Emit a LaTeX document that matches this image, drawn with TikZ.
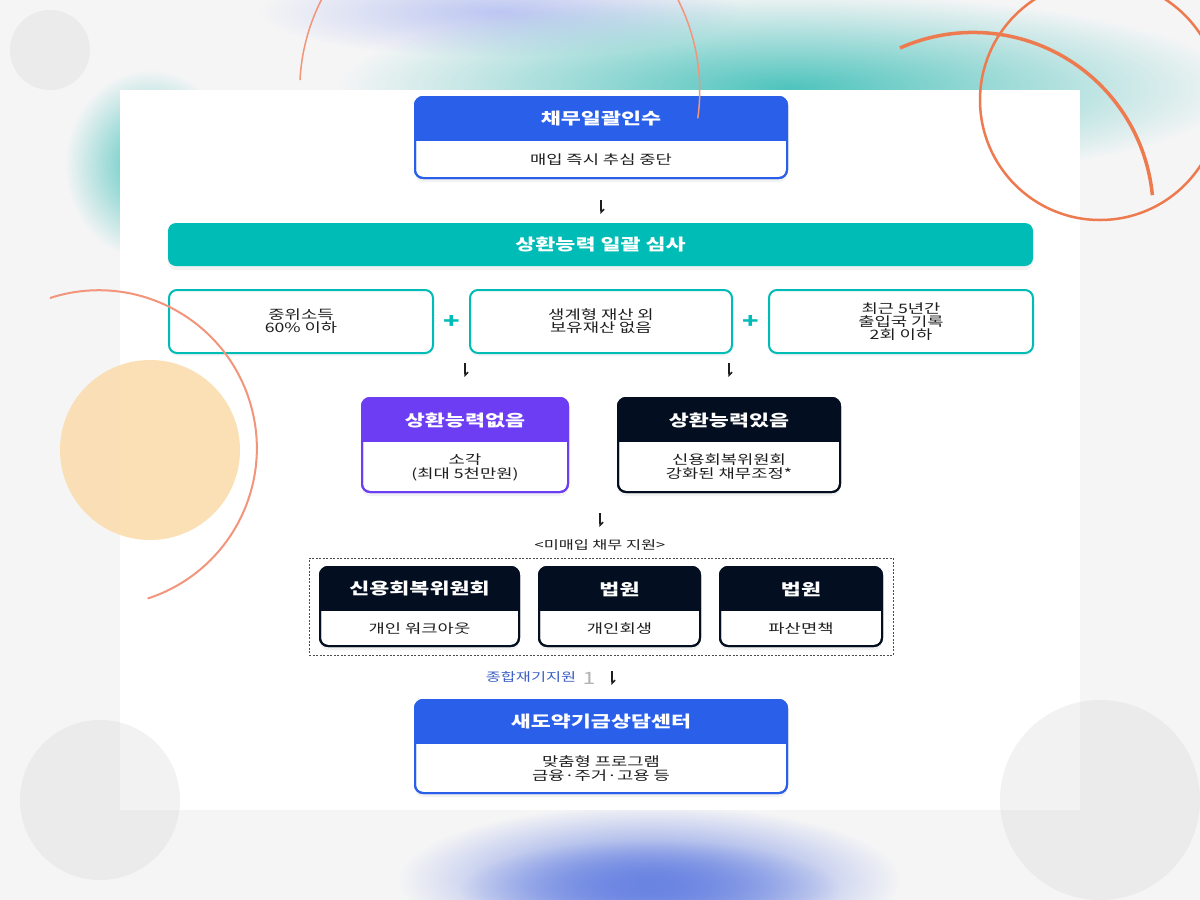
\documentclass[tikz,border=0pt]{standalone}
\usepackage{fontspec}
\setmainfont[FakeStretch=1.36]{Noto Sans CJK KR}
\usepackage{xcolor}
\definecolor{bgc}{HTML}{F5F5F6}
\definecolor{bluec}{HTML}{2A5FE9}
\definecolor{tealc}{HTML}{00BCB6}
\definecolor{purpc}{HTML}{6C3DF3}
\definecolor{darkc}{HTML}{030E20}
\definecolor{inkc}{HTML}{1E1E1E}
\definecolor{linkc}{HTML}{3B5FC4}
\definecolor{ringc}{HTML}{EE7A50}
\definecolor{ringl}{HTML}{F2957B}
\definecolor{peachc}{HTML}{FBDCAE}
\definecolor{greyc}{HTML}{D4D4D4}
\definecolor{blobt}{HTML}{4FC4BD}
\definecolor{blobb}{HTML}{6A84E2}
\definecolor{blobl}{HTML}{BCC6F2}
\usepackage{tikz}
\usetikzlibrary{arrows.meta,calc,fit,fadings,shadows}
\tikzfading[name=softblob,inner color=transparent!0,outer color=transparent!100]
\tikzset{
  >={Straight Barb[harpoon,length=3pt,width=6pt]},
  cardbox/.style={draw=#1,line width=2pt,fill=white,rounded corners=8pt,inner sep=0pt,outer sep=0pt,
    drop shadow={opacity=0.10,shadow xshift=0pt,shadow yshift=-4pt}},
  ttl/.style={font=\fontsize{16}{19}\selectfont\bfseries,text=white},
  bdy/.style={font=\fontsize{13}{14}\selectfont,text=inkc,align=center},
  cond/.style={draw=tealc,line width=2pt,fill=white,rounded corners=8pt,minimum height=63pt,inner sep=0pt,
    align=center,font=\fontsize{13}{13}\selectfont,text=inkc,drop shadow={opacity=0.08,shadow xshift=0pt,shadow yshift=-3pt}},
  bar/.style={fill=tealc,rounded corners=8pt,minimum width=865pt,minimum height=43pt,
    font=\fontsize{16}{19}\selectfont\bfseries,text=white,drop shadow={opacity=0.10,shadow xshift=0pt,shadow yshift=-4pt}},
  harr/.style={->,line width=1.5pt,draw=inkc},
  plus/.style={font=\fontsize{20}{20}\selectfont\bfseries,text=tealc},
  dbox/.style={draw=black!70,line width=1pt,dash pattern=on 2pt off 1.5pt,inner xsep=11pt,inner ysep=9pt},
  lbl/.style={font=\fontsize{12}{12}\selectfont,text=inkc},
  blob/.style={fill=#1,path fading=softblob},
  ring/.style={draw=#1,line width=2pt},
}
% two-part card: colour, name, centre, width, height, title, body
\newcommand{\card}[7]{%
  \node[cardbox=#1,minimum width=#4,minimum height=#5] (#2) at (#3) {};
  \begin{scope}
    \clip[rounded corners=8pt] (#2.south west) rectangle (#2.north east);
    \fill[#1] (#2.north west) rectangle ([yshift=-44pt]#2.north east);
  \end{scope}
  \draw[#1,line width=2pt,rounded corners=8pt] (#2.south west) rectangle (#2.north east);
  \node[ttl] (#2-t) at ([yshift=-22pt]#2.north) {#6};
  \node[bdy] (#2-b) at ($([yshift=-44pt]#2.north)!0.5!(#2.south)$) {#7};
}

\begin{document}
\begin{tikzpicture}[x=1pt,y=-1pt]
  \fill[bgc] (0,0) rectangle (1200,900);
  \useasboundingbox (0,0) rectangle (1200,900);
  % backdrop
  \fill[blob=blobl] (500,12) ellipse (240 and 45);
  \fill[blob=blobt] (790,88) ellipse (450 and 95);
  \fill[blob=blobt] (150,165) ellipse (85 and 95);
  \fill[blob=blobb] (650,880) ellipse (250 and 75);
  \fill[blob=blobb] (650,890) ellipse (190 and 50);
  \fill[white] (120,90) rectangle (1080,810);
  \fill[greyc,opacity=0.3] (50,50) circle[radius=40];
  \fill[greyc,opacity=0.3] (100,800) circle[radius=80];
  \fill[greyc,opacity=0.3] (1100,800) circle[radius=100];
  \fill[peachc,opacity=0.9] (150,450) circle[radius=90];

  \card{bluec}{buy}{601,137.5}{372pt}{81pt}{채무일괄인수}{매입 즉시 추심 중단}
  \draw[harr] ([yshift=-22pt]buy.south) -- ([yshift=-36pt]buy.south);
  \node[bar] (scr) at (600.5,244.5) {상환능력 일괄 심사};

  \node[cond,minimum width=264pt] (c1) at (301,321.5) {중위소득\\60\% 이하};
  \node[cond,minimum width=262pt] (c2) at (601,321.5) {생계형 재산 외\\보유재산 없음};
  \node[cond,minimum width=264pt] (c3) at (901,321.5) {최근 5년간\\출입국 기록\\2회 이하};
  \node[plus] (p1) at ($(c1.east)!0.5!(c2.west)$) {+};
  \node[plus] (p2) at ($(c2.east)!0.5!(c3.west)$) {+};

  \card{purpc}{no}{465,445}{206pt}{94pt}{상환능력없음}{소각\\(최대 5천만원)}
  \card{darkc}{yes}{729,445}{222pt}{94pt}{상환능력있음}{신용회복위원회\\강화된 채무조정*}
  \draw[harr] ([yshift=35pt]no.north) -- ([yshift=21pt]no.north);
  \draw[harr] ([yshift=35pt]yes.north) -- ([yshift=21pt]yes.north);

  \node[lbl] (nb) at (600,545) {<미매입 채무 지원>};
  \draw[harr] ([yshift=32pt]nb.center) -- ([yshift=18pt]nb.center);
  \card{darkc}{s1}{419.5,606.5}{199pt}{79pt}{신용회복위원회}{개인 워크아웃}
  \card{darkc}{s2}{619.5,606.5}{161pt}{79pt}{법원}{개인회생}
  \card{darkc}{s3}{801,606.5}{162pt}{79pt}{법원}{파산면책}
  \node[dbox,fit=(s1)(s2)(s3)] (nbox) {};

  \node[lbl,text=linkc] (rc) at (531,677) {종합재기지원};
  \node[font=\fontsize{17}{17}\selectfont,text=black!30] (rn) at (589,678) {1};
  \draw[harr] ([shift={(23pt,7pt)}]rn.center) -- ([shift={(23pt,-7pt)}]rn.center);

  \card{bluec}{ctr}{601,746.5}{372pt}{93pt}{새도약기금상담센터}{맞춤형 프로그램\\금융·주거·고용 등}

  % rings on top
  \draw[ring=ringl,line width=1.5pt] (300,80) arc[start angle=183,end angle=368,radius=200];
  \draw[ring=ringc,line width=2.5pt] (1100,100) circle[radius=120];
  \draw[ring=ringc,line width=3.5pt] (900,48) arc[start angle=246,end angle=354.5,radius=180];
  \draw[ring=ringl,line width=2pt] (50,298) arc[start angle=252,end angle=432,radius=158];
\end{tikzpicture}
\end{document}
